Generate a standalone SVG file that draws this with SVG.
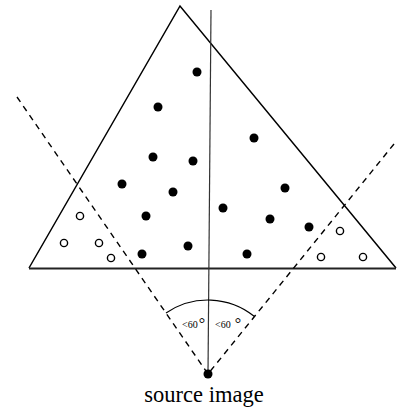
<svg xmlns="http://www.w3.org/2000/svg" width="397" height="410" viewBox="0 0 397 410">
<style>
.fill{fill:#000}
.open{fill:#fff;stroke:#000;stroke-width:1.4}
.dash{fill:none;stroke:#000;stroke-width:1.4;stroke-dasharray:6,5}
.lbl{font-family:"Liberation Serif",serif;fill:#000}
</style>
<rect width="397" height="410" fill="#fff"/>
<g id="triangle">
<path d="M29,268 L180,6 L396,268" fill="none" stroke="#000" stroke-width="1.5"/>
<line x1="29" y1="268.5" x2="396" y2="268.5" stroke="#222" stroke-width="2"/>
</g>
<g id="connectors">
<line x1="211" y1="10" x2="208" y2="374" stroke="#333" stroke-width="1.2"/>
<line class="dash" x1="17" y1="97" x2="208" y2="374"/>
<line class="dash" x1="394" y1="144" x2="208" y2="374"/>
<path d="M166,313 A74,74 0 0 1 254.5,316.5" fill="none" stroke="#000" stroke-width="1.2"/>
</g>
<g id="filled-points">
<circle class="fill" cx="197" cy="72" r="4.5"/>
<circle class="fill" cx="158" cy="107" r="4.5"/>
<circle class="fill" cx="254" cy="138" r="4.5"/>
<circle class="fill" cx="153" cy="157" r="4.5"/>
<circle class="fill" cx="193" cy="161" r="4.5"/>
<circle class="fill" cx="122" cy="184" r="4.5"/>
<circle class="fill" cx="173" cy="192" r="4.5"/>
<circle class="fill" cx="285" cy="188" r="4.5"/>
<circle class="fill" cx="223" cy="208" r="4.5"/>
<circle class="fill" cx="146" cy="216" r="4.5"/>
<circle class="fill" cx="270" cy="219" r="4.5"/>
<circle class="fill" cx="309" cy="227" r="4.5"/>
<circle class="fill" cx="188" cy="246" r="4.5"/>
<circle class="fill" cx="247" cy="254" r="4.5"/>
<circle class="fill" cx="142" cy="254" r="4.5"/>
</g>
<g id="open-points">
<circle class="open" cx="80" cy="216" r="3.6"/>
<circle class="open" cx="64" cy="243" r="3.6"/>
<circle class="open" cx="99" cy="243" r="3.6"/>
<circle class="open" cx="111" cy="258" r="3.6"/>
<circle class="open" cx="340" cy="231" r="3.6"/>
<circle class="open" cx="321" cy="257" r="3.6"/>
<circle class="open" cx="363" cy="257" r="3.6"/>
</g>
<g id="source">
<circle cx="208" cy="374" r="4.5" fill="#000"/>
<text class="lbl" x="204" y="401.5" font-size="22.5" text-anchor="middle">source image</text>
</g>
<g id="angle-labels">
<text class="lbl" x="182" y="328" font-size="10">&lt;60<tspan font-size="16" dx="1" dy="1">°</tspan></text>
<text class="lbl" x="215" y="328" font-size="10">&lt;60<tspan font-size="16" dx="4" dy="1">°</tspan></text>
</g>
</svg>
